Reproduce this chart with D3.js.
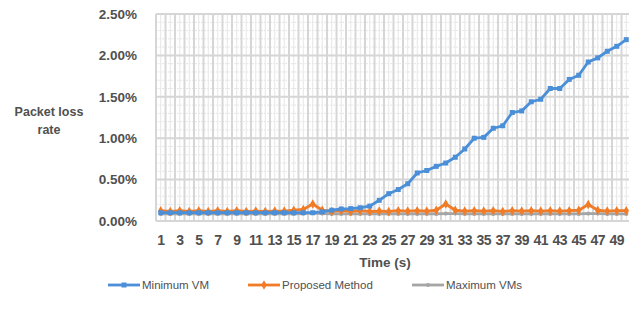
<!DOCTYPE html>
<html><head><meta charset="utf-8">
<script src="https://cdn.jsdelivr.net/npm/d3@7"></script>
<style>
html,body{margin:0;padding:0;background:#fff;}
svg{display:block;font-family:"Liberation Sans",Arial,sans-serif;}
</style></head>
<body><svg id="c" width="629" height="323"></svg>
<script>
const categories = d3.range(1, 51).map(String);
const minimumVM = [0.10,0.10,0.10,0.10,0.10,0.10,0.10,0.10,0.10,0.10,0.10,0.10,0.10,0.10,0.10,0.10,0.10,0.11,0.13,0.145,0.15,0.16,0.18,0.25,0.33,0.38,0.45,0.58,0.61,0.66,0.70,0.77,0.87,1.00,1.01,1.12,1.15,1.31,1.33,1.44,1.47,1.60,1.60,1.71,1.76,1.92,1.97,2.05,2.11,2.19];
const proposedMethod = [0.125,0.115,0.125,0.115,0.125,0.115,0.125,0.115,0.125,0.115,0.12,0.115,0.12,0.12,0.13,0.14,0.205,0.13,0.115,0.125,0.115,0.125,0.115,0.12,0.115,0.125,0.12,0.125,0.12,0.13,0.205,0.13,0.12,0.125,0.12,0.125,0.115,0.125,0.12,0.125,0.12,0.125,0.12,0.125,0.13,0.20,0.13,0.12,0.125,0.125];
const maximumVMs = [0.085,0.085,0.085,0.085,0.085,0.085,0.085,0.085,0.085,0.085,0.085,0.085,0.085,0.085,0.085,0.09,0.095,0.09,0.085,0.085,0.085,0.085,0.085,0.085,0.085,0.085,0.085,0.085,0.085,0.085,0.09,0.09,0.085,0.085,0.085,0.085,0.085,0.085,0.085,0.085,0.085,0.085,0.085,0.085,0.085,0.09,0.09,0.085,0.085,0.085];
const yTicks = [0, 0.5, 1.0, 1.5, 2.0, 2.5];
const seriesNames = ["Minimum VM", "Proposed Method", "Maximum VMs"];
const seriesColors = ["#4a8fd8", "#f07c28", "#a5a5a5"];

const svg = d3.select("#c");
const L = 156, R = 631, T = 14, B = 221;
const x = d3.scaleBand().domain(categories).range([L, R]);
const y = d3.scaleLinear().domain([0, 2.5]).range([B, T]);

// minor horizontal grid
svg.append("g").selectAll("line").data(d3.range(0, 2.51, 0.1)).join("line")
  .attr("x1", L).attr("x2", R).attr("y1", d => y(d)).attr("y2", d => y(d))
  .attr("stroke", "#e6e6e6").attr("stroke-width", 1).attr("stroke-dasharray", "2,1");
// minor vertical grid (category centres)
svg.append("g").selectAll("line").data(categories).join("line")
  .attr("x1", d => x(d) + x.bandwidth()/2).attr("x2", d => x(d) + x.bandwidth()/2)
  .attr("y1", T).attr("y2", B).attr("stroke", "#e6e6e6").attr("stroke-width", 1);
// major vertical grid (category boundaries)
svg.append("g").selectAll("line").data(categories.concat(["end"])).join("line")
  .attr("x1", (d,i) => L + i*x.bandwidth()).attr("x2", (d,i) => L + i*x.bandwidth())
  .attr("y1", T).attr("y2", B).attr("stroke", "#d6d6d6").attr("stroke-width", 2);
// major horizontal grid
svg.append("g").selectAll("line").data(yTicks).join("line")
  .attr("x1", L).attr("x2", R).attr("y1", d => y(d)).attr("y2", d => y(d))
  .attr("stroke", "#d6d6d6").attr("stroke-width", 2);

// y axis labels
const yAxis = d3.axisLeft(y).tickValues(yTicks).tickFormat(d => d.toFixed(2) + "%").tickSize(0).tickPadding(19);
const ya = svg.append("g").attr("transform", `translate(${L},0)`).call(yAxis);
ya.select(".domain").remove();
ya.selectAll("text").attr("font-size", 13.5).attr("font-weight", "bold").attr("fill", "#505050").attr("font-family", "Liberation Sans, Arial, sans-serif");

// x axis labels
const xAxis = d3.axisBottom(x).tickValues(categories.filter((d,i) => i % 2 === 0)).tickSize(0).tickPadding(14);
const xa = svg.append("g").attr("transform", `translate(0,${B})`).call(xAxis);
xa.select(".domain").remove();
xa.selectAll("text").attr("font-size", 14).attr("font-weight", "bold").attr("fill", "#505050").attr("font-family", "Liberation Sans, Arial, sans-serif").attr("letter-spacing", "-0.6");

// titles
svg.append("text").attr("x", 49).attr("y", 116).attr("text-anchor", "middle")
  .attr("font-size", 12.5).attr("font-weight", "bold").attr("fill", "#505050").text("Packet loss");
svg.append("text").attr("x", 49).attr("y", 134).attr("text-anchor", "middle")
  .attr("font-size", 12.5).attr("font-weight", "bold").attr("fill", "#505050").text("rate");
svg.append("text").attr("x", 385).attr("y", 267).attr("text-anchor", "middle")
  .attr("font-size", 13.5).attr("font-weight", "bold").attr("fill", "#505050").text("Time (s)");

const all = [minimumVM, proposedMethod, maximumVMs];
const line = d3.line().x((d,i) => x(categories[i]) + x.bandwidth()/2).y(d => y(d));
const order = [2, 1, 0];
order.forEach(k => {
  const g = svg.append("g");
  g.append("path").datum(all[k]).attr("d", line).attr("fill", "none")
    .attr("stroke", seriesColors[k]).attr("stroke-width", 2.8).attr("stroke-linejoin", "round");
  const pts = g.selectAll(".m").data(all[k]).join("path")
    .attr("transform", (d,i) => `translate(${x(categories[i]) + x.bandwidth()/2},${y(d)})`)
    .attr("fill", seriesColors[k]);
  if (k === 0) pts.attr("d", d3.symbol(d3.symbolSquare, 25)());
  else if (k === 1) pts.attr("d", d3.symbol(d3.symbolDiamond, 26)());
  else pts.attr("d", d3.symbol(d3.symbolCircle, 14)());
});

// legend
const legX = [108, 248, 412];
seriesNames.forEach((n, k) => {
  const g = svg.append("g").attr("transform", `translate(${legX[k]},285)`);
  g.append("line").attr("x1", 0).attr("x2", 32).attr("y1", 0).attr("y2", 0)
    .attr("stroke", seriesColors[k]).attr("stroke-width", 2.8);
  const m = g.append("path").attr("transform", "translate(16,0)").attr("fill", seriesColors[k]);
  if (k === 0) m.attr("d", d3.symbol(d3.symbolSquare, 25)());
  else if (k === 1) m.attr("d", d3.symbol(d3.symbolDiamond, 26)());
  else m.attr("d", d3.symbol(d3.symbolCircle, 14)());
  g.append("text").attr("x", 34).attr("y", 4).attr("font-size", 11.5).attr("fill", "#505050").text(n);
});
</script></body></html>
